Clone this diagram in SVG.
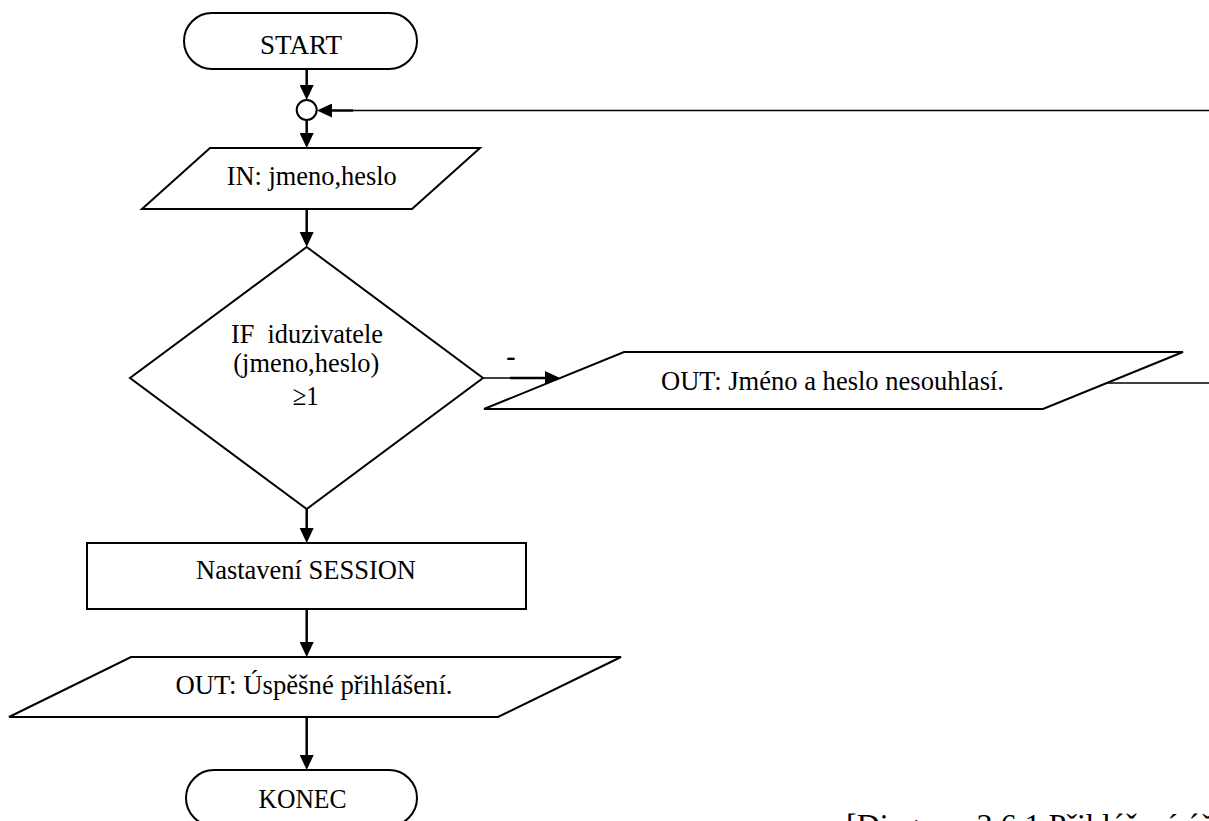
<svg xmlns="http://www.w3.org/2000/svg" width="1209" height="821" viewBox="0 0 1209 821">
<style>
  .shape { fill: #ffffff; stroke: #000000; stroke-width: 2; }
  .conn { fill: none; stroke: #000000; stroke-width: 2.5; }
  .thin { fill: none; stroke: #000000; stroke-width: 1.5; }
  .lbl { font-family: "Liberation Serif", "Times New Roman", serif; font-size: 28px; fill: #000000; text-anchor: middle; }
  .cap { font-family: "Liberation Serif", "Times New Roman", serif; font-size: 32px; fill: #000000; }
</style>
<defs>
  <marker id="ah" markerUnits="userSpaceOnUse" markerWidth="16" markerHeight="14" refX="10" refY="7" orient="auto">
    <path d="M0,0 L15,7 L0,14 z" fill="#000000"/>
  </marker>
</defs>
<rect width="1209" height="821" fill="#ffffff"/>

<g id="connectors">
  <line class="conn" x1="306.7" y1="69" x2="306.7" y2="95" marker-end="url(#ah)"/>
  <line class="conn" x1="306.7" y1="120" x2="306.7" y2="143" marker-end="url(#ah)"/>
  <line class="thin" x1="1209" y1="110.5" x2="352" y2="110.5"/>
  <line class="conn" x1="353" y1="110.5" x2="322" y2="110.5" marker-end="url(#ah)"/>
  <line class="conn" x1="306.7" y1="209" x2="306.7" y2="242" marker-end="url(#ah)"/>
  <line class="thin" x1="483" y1="378" x2="511" y2="378"/>
  <line class="conn" x1="510" y1="378" x2="555" y2="378" marker-end="url(#ah)"/>
  <line class="thin" x1="1108" y1="383" x2="1209" y2="383"/>
  <line class="conn" x1="306.7" y1="509" x2="306.7" y2="538" marker-end="url(#ah)"/>
  <line class="conn" x1="306.7" y1="609" x2="306.7" y2="652" marker-end="url(#ah)"/>
  <line class="conn" x1="306.7" y1="717" x2="306.7" y2="765" marker-end="url(#ah)"/>
  <text class="lbl" x="511" y="365" style="font-weight:bold">-</text>
</g>

<g id="start">
  <rect class="shape" x="184" y="13" width="233" height="56" rx="28" ry="28"/>
  <text class="lbl" x="301" y="54" textLength="82" lengthAdjust="spacingAndGlyphs">START</text>
</g>

<g id="join">
  <circle class="shape" cx="306.7" cy="110" r="10"/>
</g>

<g id="input">
  <polygon class="shape" points="210,148 480,148 412,209 142,209"/>
  <text class="lbl" x="311.7" y="185" textLength="170" lengthAdjust="spacingAndGlyphs">IN: jmeno,heslo</text>
</g>

<g id="decision">
  <polygon class="shape" points="306.7,247 483,378 306.7,509 130,378"/>
  <text class="lbl" x="307" y="342.5" xml:space="preserve" textLength="152" lengthAdjust="spacingAndGlyphs">IF  iduzivatele</text>
  <text class="lbl" x="306.3" y="372" textLength="146" lengthAdjust="spacingAndGlyphs">(jmeno,heslo)</text>
  <text class="lbl" x="305.7" y="405" textLength="26" lengthAdjust="spacingAndGlyphs">≥1</text>
</g>

<g id="error-output">
  <polygon class="shape" points="624,352 1183,352 1043,409 484,409"/>
  <text class="lbl" x="832.5" y="390" textLength="343" lengthAdjust="spacingAndGlyphs">OUT: Jméno a heslo nesouhlasí.</text>
</g>

<g id="session">
  <rect class="shape" x="87" y="543" width="439" height="66"/>
  <text class="lbl" x="306" y="579" textLength="220" lengthAdjust="spacingAndGlyphs">Nastavení SESSION</text>
</g>

<g id="success-output">
  <polygon class="shape" points="131,657 621,657 498,717 9,717"/>
  <text class="lbl" x="314" y="694" textLength="277" lengthAdjust="spacingAndGlyphs">OUT: Úspěšné přihlášení.</text>
</g>

<g id="end">
  <rect class="shape" x="186" y="770" width="231" height="56" rx="28" ry="28"/>
  <text class="lbl" x="302.5" y="808" textLength="88" lengthAdjust="spacingAndGlyphs">KONEC</text>
</g>

<g id="caption">
  <text class="cap" x="846" y="836">[Diagram 3.6.1 Přihlášení úž</text>
</g>
</svg>
